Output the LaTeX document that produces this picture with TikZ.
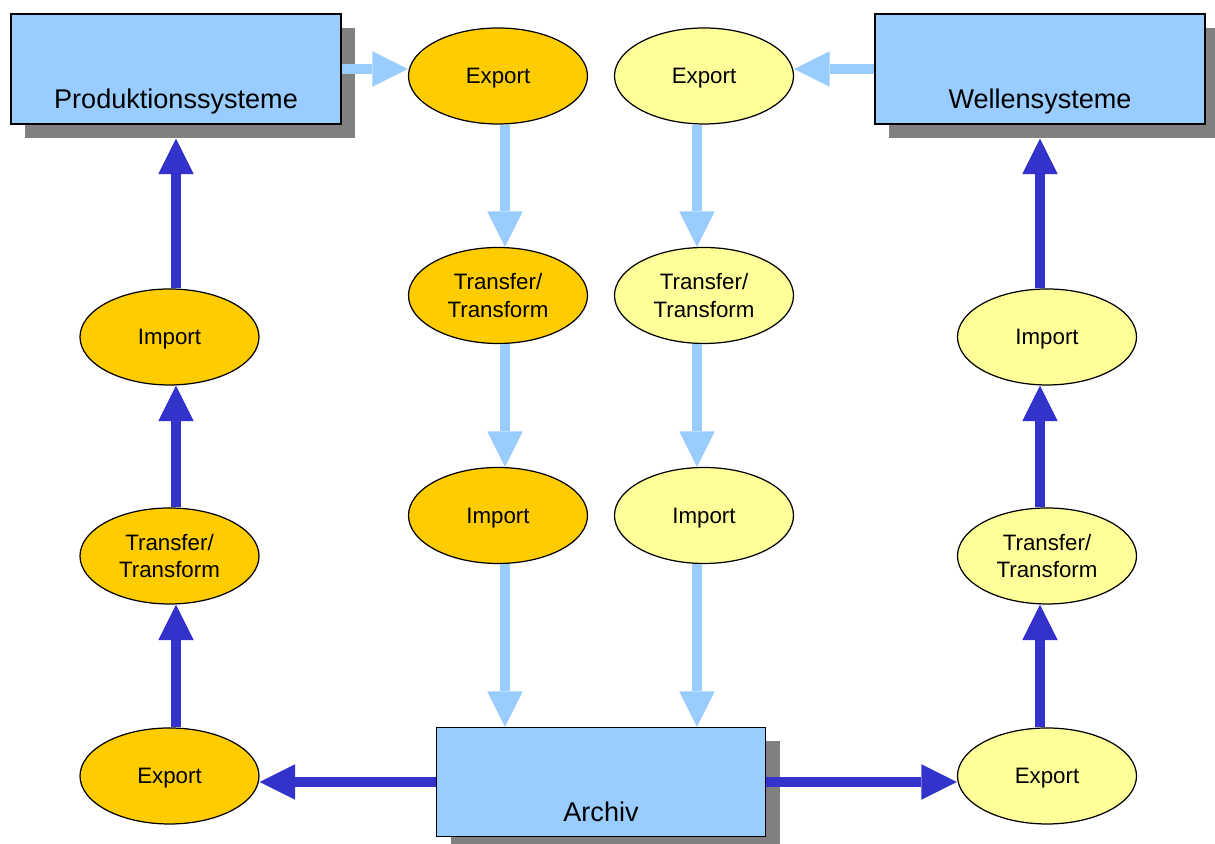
\documentclass[tikz,border=0pt]{standalone}
\usepackage{fontspec}
\setmainfont{Liberation Sans}
\usepackage{xcolor}
\usepackage{tikz}
\usetikzlibrary{arrows.meta, positioning, shapes.geometric, shadows}

\definecolor{boxblue}{HTML}{99CCFF}
\definecolor{flowblue}{HTML}{99CCFF}
\definecolor{feedblue}{HTML}{3333CC}
\definecolor{prodfill}{HTML}{FFCC00}
\definecolor{wellfill}{HTML}{FFFF99}
\definecolor{shadowgray}{HTML}{808080}

\begin{document}
\begin{tikzpicture}[
    every node/.style={inner sep=0pt},
    sysbox/.style={draw, line width=0.35pt, fill=boxblue,
      minimum width=3.30cm, minimum height=1.10cm,
      text height=0.95cm, text depth=0.15cm,
      font=\fontsize{7.7}{9.4}\selectfont,
      drop shadow={shadow xshift=0.14cm, shadow yshift=-0.14cm, fill=shadowgray, opacity=1}},
    stage/.style={ellipse, draw, line width=0.35pt,
      minimum width=1.79cm, minimum height=0.96cm, align=center,
      text depth=0pt, font=\fontsize{6.35}{7.8}\selectfont},
    flow/.style={-{Triangle[width=3.55mm, length=3.55mm, line width=0pt]}, line width=0.095cm, flowblue},
    feed/.style={-{Triangle[width=3.55mm, length=3.55mm, line width=0pt]}, line width=0.097cm, feedblue},
  ]
  \useasboundingbox (0,0) rectangle (12.15,8.44);

  % Systems
  \node[sysbox] (prod) at (1.76,7.75) {Produktionssysteme};
  \node[sysbox] (welle) at (10.40,7.75) {Wellensysteme};
  \node[sysbox, minimum width=3.29cm, minimum height=1.09cm, text height=0.94cm] (archiv) at (6.01,0.62) {Archiv};

  % Produktion -> Archiv
  \node[stage, fill=prodfill] (outP1) at (4.98,7.68) {Export};
  \node[stage, fill=prodfill] (outP2) at (4.98,5.485) {Transfer/\\Transform};
  \node[stage, fill=prodfill] (outP3) at (4.98,3.285) {Import};

  % Wellen -> Archiv
  \node[stage, fill=wellfill] (outW1) at (7.04,7.68) {Export};
  \node[stage, fill=wellfill] (outW2) at (7.04,5.485) {Transfer/\\Transform};
  \node[stage, fill=wellfill] (outW3) at (7.04,3.285) {Import};

  % Archiv -> Produktion
  \node[stage, fill=prodfill] (inP1) at (1.695,0.68) {Export};
  \node[stage, fill=prodfill] (inP2) at (1.695,2.88) {Transfer/\\Transform};
  \node[stage, fill=prodfill] (inP3) at (1.695,5.07) {Import};

  % Archiv -> Wellen
  \node[stage, fill=wellfill] (inW1) at (10.47,0.68) {Export};
  \node[stage, fill=wellfill] (inW2) at (10.47,2.88) {Transfer/\\Transform};
  \node[stage, fill=wellfill] (inW3) at (10.47,5.07) {Import};

  % Light flows into the archive
  \draw[flow] (prod.east) -- (prod.east -| outP1.west);
  \draw[flow] ([xshift=0.07cm]outP1.south) -- ([xshift=0.07cm]outP2.north);
  \draw[flow] ([xshift=0.07cm]outP2.south) -- ([xshift=0.07cm]outP3.north);
  \draw[flow] ([xshift=0.07cm]outP3.south) -- ([xshift=0.07cm]outP3.south |- archiv.north);
  \draw[flow] (welle.west) -- (welle.west -| outW1.east);
  \draw[flow] ([xshift=-0.07cm]outW1.south) -- ([xshift=-0.07cm]outW2.north);
  \draw[flow] ([xshift=-0.07cm]outW2.south) -- ([xshift=-0.07cm]outW3.north);
  \draw[flow] ([xshift=-0.07cm]outW3.south) -- ([xshift=-0.07cm]outW3.south |- archiv.north);

  % Dark flows out of the archive
  \draw[feed] (archiv.west) -- (archiv.west -| inP1.east);
  \draw[feed] (inP1.north -| prod.south) -- (inP2.south -| prod.south);
  \draw[feed] (inP2.north -| prod.south) -- (inP3.south -| prod.south);
  \draw[feed] (inP3.north -| prod.south) -- ([yshift=-0.14cm]prod.south);
  \draw[feed] (archiv.east) -- (archiv.east -| inW1.west);
  \draw[feed] (inW1.north -| welle.south) -- (inW2.south -| welle.south);
  \draw[feed] (inW2.north -| welle.south) -- (inW3.south -| welle.south);
  \draw[feed] (inW3.north -| welle.south) -- ([yshift=-0.14cm]welle.south);
\end{tikzpicture}
\end{document}
